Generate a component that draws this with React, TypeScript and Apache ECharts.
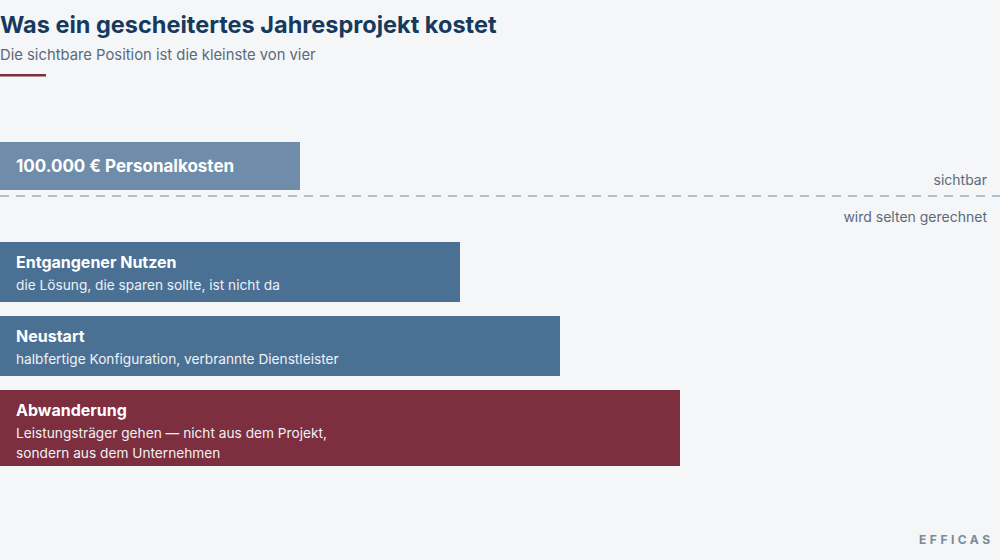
import React, { useEffect, useRef } from "react";
import * as echarts from "echarts";

const titleText = "Was ein gescheitertes Jahresprojekt kostet";
const subtitleText = "Die sichtbare Position ist die kleinste von vier";
const categories = ["Personalkosten", "Entgangener Nutzen", "Neustart", "Abwanderung"];
const values = [30, 46, 56, 68];
const barTitles = ["100.000 € Personalkosten", "Entgangener Nutzen", "Neustart", "Abwanderung"];
const barNotes: string[][] = [
  [],
  ["die Lösung, die sparen sollte, ist nicht da"],
  ["halbfertige Konfiguration, verbrannte Dienstleister"],
  ["Leistungsträger gehen — nicht aus dem Projekt,", "sondern aus dem Unternehmen"],
];
const barColors = ["#6f8dab", "#4a7094", "#4a7094", "#7d2e3f"];
const tierLabels = ["sichtbar", "wird selten gerechnet"];
const brand = "EFFICAS";

const FONT = "Inter, 'Noto Sans', sans-serif";
const GRID_TOP = 142;

function rowHeight(i: number) {
  const n = barNotes[i].length;
  return n === 0 ? 48 : 44 + 16 * n;
}
function rowGap(i: number) {
  return i === 0 ? 52 : 14;
}
function rowTop(i: number) {
  let y = 0;
  for (let k = 0; k < i; k++) y += rowHeight(k) + rowGap(k);
  return y;
}

export default function App() {
  const ref = useRef<HTMLDivElement>(null);
  useEffect(() => {
    if (!ref.current) return;
    const chart = echarts.init(ref.current, null, { renderer: "svg" });
    const dividerY = GRID_TOP + rowHeight(0) + 6;
    chart.setOption({
      animation: false,
      backgroundColor: "#f4f6f8",
      title: {
        text: titleText,
        subtext: subtitleText,
        left: 0,
        top: 9,
        padding: 0,
        itemGap: 7,
        textStyle: { fontFamily: FONT, fontSize: 23.5, fontWeight: 700, color: "#173a5c", lineHeight: 30 },
        subtextStyle: { fontFamily: FONT, fontSize: 14.8, color: "#5b6a7a", lineHeight: 18 },
      },
      grid: { left: 0, right: 0, top: GRID_TOP, bottom: 94 },
      xAxis: { type: "value", min: 0, max: 100, show: false },
      yAxis: { type: "category", data: categories, inverse: true, show: false },
      series: [
        {
          type: "custom",
          coordinateSystem: "cartesian2d",
          data: values.map((v, i) => [v, i]),
          renderItem: (params: any, api: any) => {
            const i = params.dataIndex;
            const x0 = api.coord([0, i])[0];
            const x1 = api.coord([api.value(0), i])[0];
            const top = params.coordSys.y + rowTop(i);
            const h = rowHeight(i);
            const children: any[] = [
              {
                type: "rect",
                shape: { x: x0, y: top, width: x1 - x0, height: h },
                style: { fill: barColors[i] },
              },
            ];
            const notes = barNotes[i];
            if (notes.length === 0) {
              children.push({
                type: "text",
                style: {
                  x: x0 + 16,
                  y: top + h / 2,
                  text: barTitles[i],
                  fill: "#ffffff",
                  font: `700 17px ${FONT}`,
                  verticalAlign: "middle",
                  align: "left",
                },
              });
            } else {
              children.push({
                type: "text",
                style: {
                  x: x0 + 16,
                  y: top + 20,
                  text: barTitles[i],
                  fill: "#ffffff",
                  font: `700 16px ${FONT}`,
                  verticalAlign: "middle",
                  align: "left",
                },
              });
              notes.forEach((n, k) => {
                children.push({
                  type: "text",
                  style: {
                    x: x0 + 16,
                    y: top + 43 + k * 20,
                    text: n,
                    fill: "#eef2f6",
                    font: `400 13.7px ${FONT}`,
                    verticalAlign: "middle",
                    align: "left",
                  },
                });
              });
            }
            return { type: "group", children };
          },
        },
      ],
      graphic: [
        {
          type: "rect",
          shape: { x: 0, y: 74, width: 46, height: 2.5 },
          style: { fill: "#7d2e3f" },
        },
        {
          type: "line",
          shape: { x1: 0, y1: dividerY, x2: 1000, y2: dividerY },
          style: { stroke: "#9db0c1", lineWidth: 1.5, lineDash: [9, 7] },
        },
        {
          type: "text",
          style: {
            x: 987, y: dividerY - 17, text: tierLabels[0], align: "right", verticalAlign: "middle",
            fill: "#5b6a7a", font: `400 14px ${FONT}`,
          },
        },
        {
          type: "text",
          style: {
            x: 987, y: dividerY + 20, text: tierLabels[1], align: "right", verticalAlign: "middle",
            fill: "#5b6a7a", font: `400 14px ${FONT}`,
          },
        },
        {
          type: "text",
          style: {
            x: 993.5, y: 539, text: brand, align: "right", verticalAlign: "middle",
            fill: "#7b8b9b", font: `700 12px ${FONT}`,
          },
        },
      ],
    });
    const texts = ref.current.querySelectorAll("text");
    texts.forEach((t) => {
      if (t.textContent === brand) t.style.letterSpacing = "3.5px";
    });
    return () => chart.dispose();
  }, []);
  return (
    <div
      ref={ref}
      style={{ position: "absolute", left: 0, top: 0, width: 1000, height: 560 }}
    />
  );
}
